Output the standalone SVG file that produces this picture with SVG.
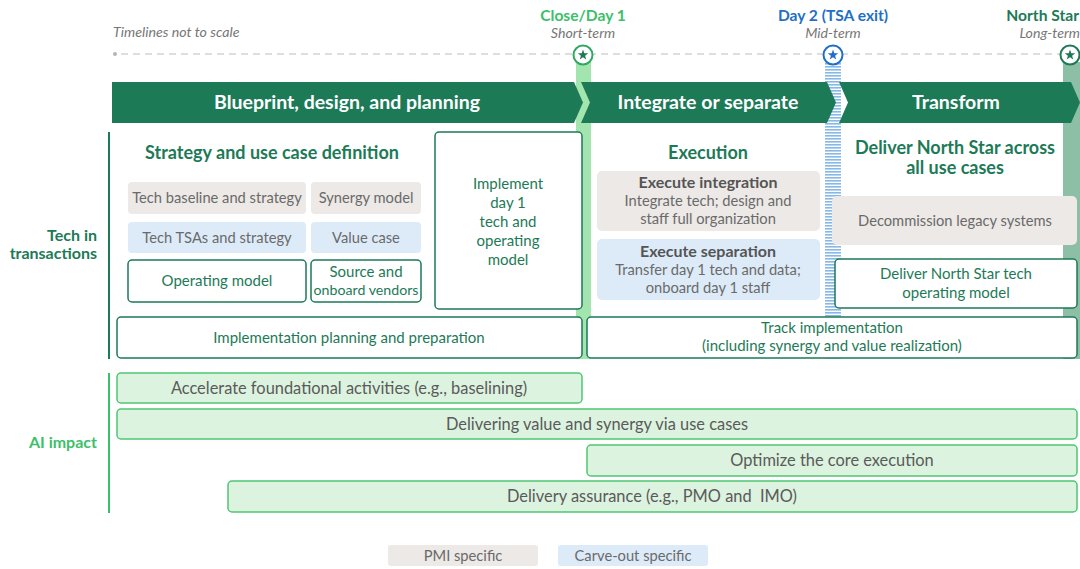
<svg xmlns="http://www.w3.org/2000/svg" width="1080" height="569" viewBox="0 0 1080 569">
  <defs>
    <style>
      text { font-family: Lato, "Noto Sans", "Liberation Sans", sans-serif; }
      .phase { fill: #1d7a57; }
      .phase-t { fill: #ffffff; font-size: 19.5px; font-weight: bold; text-anchor: middle; }
      .gray { fill: #ece9e6; }
      .blue { fill: #ddebf9; }
      .outl { fill: #ffffff; stroke: #1d7a57; stroke-width: 1.5; }
      .ai { fill: #dcf3df; stroke: #4ec673; stroke-width: 1.5; }
      .t-gray { fill: #6a6a6a; font-size: 14.7px; text-anchor: middle; }
      .t-green { fill: #1d7a57; font-size: 15px; text-anchor: middle; }
      .t-ai { fill: #5a5a5a; font-size: 16.4px; text-anchor: middle; }
      .t-head { fill: #1d7a57; font-size: 18px; font-weight: bold; text-anchor: middle; }
      .t-sub { fill: #555555; font-size: 16px; font-weight: bold; text-anchor: middle; }
      .t-italic { fill: #777777; font-size: 14.2px; font-style: italic; }
      .t-mile { font-size: 15.6px; font-weight: bold; text-anchor: middle; }
      .row-label { font-size: 16px; font-weight: bold; text-anchor: end; }
    </style>
    <pattern id="hatch" width="6" height="3" patternUnits="userSpaceOnUse">
      <rect width="6" height="3" fill="#ffffff"/>
      <rect y="0" width="6" height="1.6" fill="#86b9e6"/>
    </pattern>
    <polygon id="star" points="0,-5.5 1.29,-1.78 5.23,-1.70 2.09,0.68 3.23,4.45 0,2.2 -3.23,4.45 -2.09,0.68 -5.23,-1.70 -1.29,-1.78"/>
  </defs>

  <rect width="1080" height="569" fill="#ffffff"/>

  <!-- timeline header -->
  <g id="timeline">
    <text x="113" y="37" class="t-italic">Timelines not to scale</text>
    <circle cx="115" cy="54" r="2" fill="#b5b5b5"/>
    <line x1="121" y1="54" x2="1080" y2="54" stroke="#bdbdbd" stroke-width="1.2" stroke-dasharray="7 5"/>
  </g>

  <!-- milestone bands -->
  <g id="bands">
    <rect x="576" y="62" width="15" height="297" fill="#a3e5ae"/>
    <rect x="825" y="62" width="16" height="297" fill="url(#hatch)"/>
    <rect x="1063" y="62" width="17" height="297" fill="#8dbfa6"/>
  </g>

  <!-- milestones -->
  <g id="milestone-day1">
    <text x="583" y="21" class="t-mile" fill="#3cc06a">Close/Day 1</text>
    <text x="583" y="38" class="t-italic" text-anchor="middle">Short-term</text>
    <circle cx="583" cy="55" r="9.5" fill="#ffffff" stroke="#2fa860" stroke-width="2"/>
    <use href="#star" x="583" y="55" fill="#1d7a57"/>
  </g>
  <g id="milestone-day2">
    <text x="833" y="21" class="t-mile" fill="#1f6fc4">Day 2 (TSA exit)</text>
    <text x="833" y="38" class="t-italic" text-anchor="middle">Mid-term</text>
    <circle cx="833" cy="55" r="9.5" fill="#ffffff" stroke="#1f6fc4" stroke-width="2"/>
    <use href="#star" x="833" y="55" fill="#1f6fc4"/>
  </g>
  <g id="milestone-northstar">
    <text x="1079" y="21" class="t-mile" fill="#1d7a57" text-anchor="end" style="text-anchor:end">North Star</text>
    <text x="1080" y="38" class="t-italic" text-anchor="end">Long-term</text>
    <circle cx="1070" cy="55" r="9.5" fill="#ffffff" stroke="#1d7a57" stroke-width="2"/>
    <use href="#star" x="1070" y="55" fill="#1d7a57"/>
  </g>

  <!-- phase chevrons -->
  <g id="phase-blueprint">
    <polygon class="phase" points="112,82 574,82 583,102.5 574,123 112,123"/>
    <text x="347" y="109" class="phase-t">Blueprint, design, and planning</text>
  </g>
  <g id="phase-integrate">
    <polygon class="phase" points="581,82 827,82 836,102.5 827,123 581,123 590,102.5"/>
    <text x="708" y="109" class="phase-t">Integrate or separate</text>
  </g>
  <g id="phase-transform">
    <polygon class="phase" points="839,82 1071,82 1080,102.5 1071,123 839,123 848,102.5"/>
    <text x="956" y="109" class="phase-t">Transform</text>
  </g>

  <!-- row labels -->
  <g id="row-tech">
    <text x="97" y="241" class="row-label" fill="#1d7a57">Tech in</text>
    <text x="97" y="259" class="row-label" fill="#1d7a57">transactions</text>
    <line x1="109" y1="132" x2="109" y2="359" stroke="#1d7a57" stroke-width="2"/>
  </g>
  <g id="row-ai">
    <text x="97" y="448" class="row-label" fill="#3cc06a">AI impact</text>
    <line x1="109" y1="373" x2="109" y2="513" stroke="#3cc06a" stroke-width="2"/>
  </g>

  <!-- blueprint column -->
  <g id="strategy">
    <text x="272" y="159" class="t-head">Strategy and use case definition</text>
  </g>
  <g id="tech-baseline">
    <rect x="128" y="182" width="178" height="32" rx="4" class="gray"/>
    <text x="217" y="203" class="t-gray">Tech baseline and strategy</text>
  </g>
  <g id="synergy-model">
    <rect x="311" y="182" width="110" height="32" rx="4" class="gray"/>
    <text x="366" y="203" class="t-gray">Synergy model</text>
  </g>
  <g id="tech-tsas">
    <rect x="128" y="222" width="178" height="31" rx="4" class="blue"/>
    <text x="217" y="242.5" class="t-gray">Tech TSAs and strategy</text>
  </g>
  <g id="value-case">
    <rect x="311" y="222" width="110" height="31" rx="4" class="blue"/>
    <text x="366" y="242.5" class="t-gray">Value case</text>
  </g>
  <g id="operating-model">
    <rect x="128" y="260" width="178" height="42" rx="4" class="outl"/>
    <text x="217" y="286" class="t-green">Operating model</text>
  </g>
  <g id="source-vendors">
    <rect x="311" y="260" width="110" height="42" rx="4" class="outl"/>
    <text x="366" y="277" class="t-green">Source and</text>
    <text x="366" y="295" class="t-green" style="font-size:14.2px">onboard vendors</text>
  </g>
  <g id="implement-day1">
    <rect x="435" y="132" width="147" height="177" rx="4" class="outl"/>
    <text x="508" y="189" class="t-green">Implement</text>
    <text x="508" y="208" class="t-green">day 1</text>
    <text x="508" y="227" class="t-green">tech and</text>
    <text x="508" y="246" class="t-green">operating</text>
    <text x="508" y="265" class="t-green">model</text>
  </g>
  <g id="implementation-planning">
    <rect x="117" y="317" width="465" height="41" rx="4" class="outl"/>
    <text x="349" y="343" class="t-green">Implementation planning and preparation</text>
  </g>

  <!-- integrate / separate column -->
  <g id="execution">
    <text x="708" y="159" class="t-head">Execution</text>
  </g>
  <g id="execute-integration">
    <rect x="597" y="171" width="223" height="60" rx="5" class="gray"/>
    <text x="708" y="188" class="t-sub">Execute integration</text>
    <text x="708" y="206" class="t-gray">Integrate tech; design and</text>
    <text x="708" y="224" class="t-gray">staff full organization</text>
  </g>
  <g id="execute-separation">
    <rect x="597" y="239" width="223" height="61" rx="5" class="blue"/>
    <text x="708" y="257" class="t-sub">Execute separation</text>
    <text x="708" y="275" class="t-gray">Transfer day 1 tech and data;</text>
    <text x="708" y="293" class="t-gray">onboard day 1 staff</text>
  </g>
  <g id="track-implementation">
    <rect x="587" y="317" width="490" height="41" rx="4" class="outl"/>
    <text x="832" y="333" class="t-green">Track implementation</text>
    <text x="832" y="351" class="t-green">(including synergy and value realization)</text>
  </g>

  <!-- transform column -->
  <g id="deliver-north-star">
    <text x="955" y="154" class="t-head">Deliver North Star across</text>
    <text x="955" y="174" class="t-head">all use cases</text>
  </g>
  <g id="decommission">
    <rect x="832" y="196" width="245" height="49" rx="5" class="gray"/>
    <text x="955" y="226" class="t-gray">Decommission legacy systems</text>
  </g>
  <g id="north-star-tom">
    <rect x="835" y="259" width="242" height="49" rx="4" class="outl"/>
    <text x="956" y="279" class="t-green">Deliver North Star tech</text>
    <text x="956" y="298" class="t-green">operating model</text>
  </g>

  <!-- AI impact bars -->
  <g id="ai-accelerate">
    <rect x="117" y="373" width="465" height="30" rx="4" class="ai"/>
    <text x="349" y="393.5" class="t-ai">Accelerate foundational activities (e.g., baselining)</text>
  </g>
  <g id="ai-value">
    <rect x="117" y="409" width="960" height="30" rx="4" class="ai"/>
    <text x="597" y="429.5" class="t-ai">Delivering value and synergy via use cases</text>
  </g>
  <g id="ai-optimize">
    <rect x="587" y="445" width="490" height="31" rx="4" class="ai"/>
    <text x="832" y="466" class="t-ai">Optimize the core execution</text>
  </g>
  <g id="ai-assurance">
    <rect x="228" y="481" width="849" height="31" rx="4" class="ai"/>
    <text x="652" y="502" class="t-ai">Delivery assurance (e.g., PMO and&#160; IMO)</text>
  </g>

  <!-- legend -->
  <g id="legend-pmi">
    <rect x="388" y="545" width="150" height="21" rx="3" class="gray"/>
    <text x="463" y="561" class="t-gray">PMI specific</text>
  </g>
  <g id="legend-carveout">
    <rect x="558" y="545" width="150" height="21" rx="3" class="blue"/>
    <text x="633" y="561" class="t-gray">Carve-out specific</text>
  </g>

  <!-- no connectors in this layout -->
  <g id="connectors"/>
</svg>
